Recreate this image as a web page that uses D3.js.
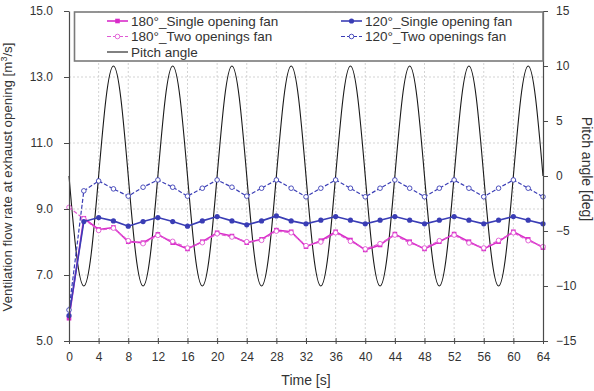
<!DOCTYPE html>
<html>
<head>
<meta charset="utf-8">
<title>Ventilation flow rate and pitch angle</title>
<script src="https://cdn.jsdelivr.net/npm/d3@7"></script>
<style>
  body { margin: 0; background: #fff; }
  svg { font-family: "Liberation Sans", Arial, sans-serif; }
</style>
</head>
<body>
<div id="container"></div>
<script>
  // Flow series, sampled every 2 s.
  const time = [0, 2, 4, 6, 8, 10, 12, 14, 16, 18, 20, 22, 24, 26, 28, 30, 32,
                34, 36, 38, 40, 42, 44, 46, 48, 50, 52, 54, 56, 58, 60, 62, 64];
  const single180 = [5.69, 8.72, 8.38, 8.44, 8.01, 7.98, 8.23, 7.98, 7.79, 8.01, 8.28, 8.18, 7.98, 8.08, 8.36, 8.31, 7.86,
                     8.04, 8.31, 8.06, 7.76, 7.91, 8.24, 8.01, 7.79, 8.01, 8.24, 8.01, 7.79, 8.01, 8.31, 8.08, 7.83];
  const two180 = [9.05, 8.70, 8.35, 8.42, 8.04, 7.95, 8.20, 8.02, 7.82, 7.98, 8.25, 8.15, 8.01, 8.05, 8.33, 8.28, 7.89,
                  8.00, 8.28, 8.02, 7.79, 7.95, 8.21, 7.97, 7.82, 8.04, 8.21, 7.97, 7.82, 8.05, 8.28, 8.04, 7.86];
  const single120 = [5.77, 8.62, 8.74, 8.64, 8.48, 8.62, 8.74, 8.62, 8.48, 8.64, 8.77, 8.64, 8.52, 8.64, 8.79, 8.64, 8.55,
                     8.66, 8.77, 8.66, 8.55, 8.66, 8.77, 8.66, 8.55, 8.66, 8.77, 8.66, 8.55, 8.66, 8.77, 8.66, 8.55];
  const two120 = [5.94, 9.55, 9.85, 9.61, 9.39, 9.66, 9.88, 9.66, 9.39, 9.63, 9.88, 9.66, 9.39, 9.63, 9.88, 9.63, 9.37,
                  9.63, 9.88, 9.63, 9.37, 9.63, 9.88, 9.63, 9.37, 9.63, 9.88, 9.63, 9.37, 9.63, 9.88, 9.63, 9.37];

  // Pitch angle, sampled every 1 s.
  const pitchTime = [0, 1, 2, 3, 4, 5, 6, 7, 8, 9, 10, 11, 12, 13, 14, 15, 16, 17, 18, 19, 20, 21, 22, 23, 24, 25, 26, 27, 28, 29, 30, 31, 32,
                     33, 34, 35, 36, 37, 38, 39, 40, 41, 42, 43, 44, 45, 46, 47, 48, 49, 50, 51, 52, 53, 54, 55, 56, 57, 58, 59, 60, 61, 62, 63, 64];
  const pitch = [0, -7.07, -10, -7.07, 0, 7.07, 10, 7.07, 0, -7.07, -10, -7.07, 0, 7.07, 10, 7.07,
                 0, -7.07, -10, -7.07, 0, 7.07, 10, 7.07, 0, -7.07, -10, -7.07, 0, 7.07, 10, 7.07,
                 0, -7.07, -10, -7.07, 0, 7.07, 10, 7.07, 0, -7.07, -10, -7.07, 0, 7.07, 10, 7.07,
                 0, -7.07, -10, -7.07, 0, 7.07, 10, 7.07, 0, -7.07, -10, -7.07, 0, 7.07, 10, 7.07, 0];

  // Ticks
  const xTicks = [0, 4, 8, 12, 16, 20, 24, 28, 32, 36, 40, 44, 48, 52, 56, 60, 64];
  const yTicks = [5, 7, 9, 11, 13, 15];
  const y2Ticks = [-15, -10, -5, 0, 5, 10, 15];

  const series = [
    { name: "180°_Single opening fan", values: single180, color: "#d92bc9", dash: null, marker: "square" },
    { name: "180°_Two openings fan", values: two180, color: "#e05ad4", dash: "4,2", marker: "open" },
    { name: "120°_Single opening fan", values: single120, color: "#3a3db5", dash: null, marker: "dot" },
    { name: "120°_Two openings fan", values: two120, color: "#3a3db5", dash: "4,2", marker: "open" }
  ];

  const width = 594;
  const height = 391;
  const marginTop = 11;
  const marginRight = 51;
  const marginBottom = 50;
  const marginLeft = 69;

  const x = d3.scaleLinear().domain([0, 64]).range([marginLeft, width - marginRight]);
  const y = d3.scaleLinear().domain([5, 15]).range([height - marginBottom, marginTop]);
  const y2 = d3.scaleLinear().domain([-15, 15]).range([height - marginBottom, marginTop]);

  const svg = d3.create("svg")
      .attr("width", width)
      .attr("height", height);

  // Grid lines
  const grid = svg.append("g")
      .attr("stroke", "#c8c8c8")
      .attr("stroke-width", 0.8)
      .attr("stroke-dasharray", "2,2");
  grid.selectAll("line.gx")
    .data(xTicks.slice(1, -1))
    .join("line")
      .attr("x1", d => x(d)).attr("x2", d => x(d))
      .attr("y1", y(5)).attr("y2", y(15));
  grid.selectAll("line.gy")
    .data(yTicks.slice(1, -1))
    .join("line")
      .attr("x1", x(0)).attr("x2", x(64))
      .attr("y1", d => y(d)).attr("y2", d => y(d));

  // Pitch angle line
  svg.append("path")
      .datum(pitch)
      .attr("fill", "none")
      .attr("stroke", "#1a1a1a")
      .attr("stroke-width", 1.1)
      .attr("d", d3.line()
        .x((d, i) => x(pitchTime[i]))
        .y(d => y2(d))
        .curve(d3.curveNatural));

  // Flow lines
  const line = d3.line()
      .x((d, i) => x(time[i]))
      .y(d => y(d));

  function drawMarkers(g, data, s, cx, cy) {
    if (s.marker === "square") {
      g.selectAll("rect")
        .data(data)
        .join("rect")
          .attr("x", (d, i) => cx(d, i) - 2.3)
          .attr("y", (d, i) => cy(d, i) - 2.3)
          .attr("width", 4.6)
          .attr("height", 4.6)
          .attr("fill", s.color);
    } else {
      g.selectAll("circle")
        .data(data)
        .join("circle")
          .attr("cx", (d, i) => cx(d, i))
          .attr("cy", (d, i) => cy(d, i))
          .attr("r", s.marker === "dot" ? 2.6 : 2.3)
          .attr("fill", s.marker === "dot" ? s.color : "#fff")
          .attr("stroke", s.color)
          .attr("stroke-width", s.marker === "dot" ? 0 : 0.9);
    }
  }

  series.forEach(s => {
    const g = svg.append("g");
    g.append("path")
        .datum(s.values)
        .attr("fill", "none")
        .attr("stroke", s.color)
        .attr("stroke-width", s.dash ? 1.2 : 1.6)
        .attr("stroke-dasharray", s.dash)
        .attr("d", line);
    drawMarkers(g, s.values, s, (d, i) => x(time[i]), d => y(d));
  });

  // Axes
  const axisColor = "#4a4a4a";
  const gx = svg.append("g")
      .attr("transform", `translate(0,${height - marginBottom})`)
      .call(d3.axisBottom(x).tickValues(xTicks).tickSize(3).tickSizeOuter(0).tickPadding(8));
  gx.selectAll(".tick line").attr("y1", -3);

  const gy = svg.append("g")
      .attr("transform", `translate(${marginLeft},0)`)
      .call(d3.axisLeft(y).tickValues(yTicks).tickFormat(d3.format(".1f")).tickSize(5).tickSizeOuter(0).tickPadding(11));

  const gy2 = svg.append("g")
      .attr("transform", `translate(${width - marginRight},0)`)
      .call(d3.axisRight(y2).tickValues(y2Ticks).tickSize(5).tickSizeOuter(0).tickPadding(8));

  [gx, gy, gy2].forEach(g => {
    g.select(".domain").attr("stroke", axisColor).attr("stroke-width", 1.2);
    g.selectAll(".tick line").attr("stroke", axisColor);
    g.selectAll(".tick text").attr("fill", "#333").style("font-size", "12px");
  });

  // Axis titles
  svg.append("text")
      .attr("x", (x(0) + x(64)) / 2)
      .attr("y", 385)
      .attr("text-anchor", "middle")
      .attr("fill", "#333")
      .style("font-size", "14px")
      .text("Time [s]");

  svg.append("text")
      .attr("transform", `translate(12,${(y(5) + y(15)) / 2 + 1}) rotate(-90)`)
      .attr("text-anchor", "middle")
      .attr("fill", "#333")
      .style("font-size", "13.3px")
      .text("Ventilation flow rate at exhaust opening [m")
      .call(t => {
        t.append("tspan").attr("dy", -5).style("font-size", "9px").text("3");
        t.append("tspan").attr("dy", 5).text("/s]");
      });

  svg.append("text")
      .attr("transform", `translate(582,${(y(5) + y(15)) / 2 - 7}) rotate(90)`)
      .attr("text-anchor", "middle")
      .attr("fill", "#333")
      .style("font-size", "14px")
      .text("Pitch angle [deg]");

  // Legend
  const legend = svg.append("g");
  legend.append("rect")
      .attr("x", 74.5)
      .attr("y", 12)
      .attr("width", x(64) - 74.5)
      .attr("height", 49)
      .attr("fill", "#fff")
      .attr("stroke", "#7a7a7a")
      .attr("stroke-width", 1.6);

  const legendItems = [
    { s: series[0], lx: 107, ly: 21 },
    { s: series[1], lx: 107, ly: 36.5 },
    { s: series[2], lx: 341, ly: 21 },
    { s: series[3], lx: 341, ly: 36.5 },
    { s: { name: "Pitch angle", color: "#1a1a1a", dash: null, marker: null }, lx: 107, ly: 52 }
  ];

  legendItems.forEach(item => {
    const s = item.s;
    const g = legend.append("g");
    g.append("line")
        .attr("x1", item.lx).attr("x2", item.lx + 21)
        .attr("y1", item.ly).attr("y2", item.ly)
        .attr("stroke", s.color)
        .attr("stroke-width", s.marker ? (s.dash ? 1.2 : 1.6) : 1.1)
        .attr("stroke-dasharray", s.dash);
    if (s.marker) drawMarkers(g, [0], s, () => item.lx + 10.5, () => item.ly);
    g.append("text")
        .attr("x", item.lx + 24)
        .attr("y", item.ly)
        .attr("dy", "0.35em")
        .attr("fill", "#333")
        .style("font-size", "13.5px")
        .text(s.name);
  });

  document.getElementById("container").append(svg.node());
</script>
</body>
</html>
